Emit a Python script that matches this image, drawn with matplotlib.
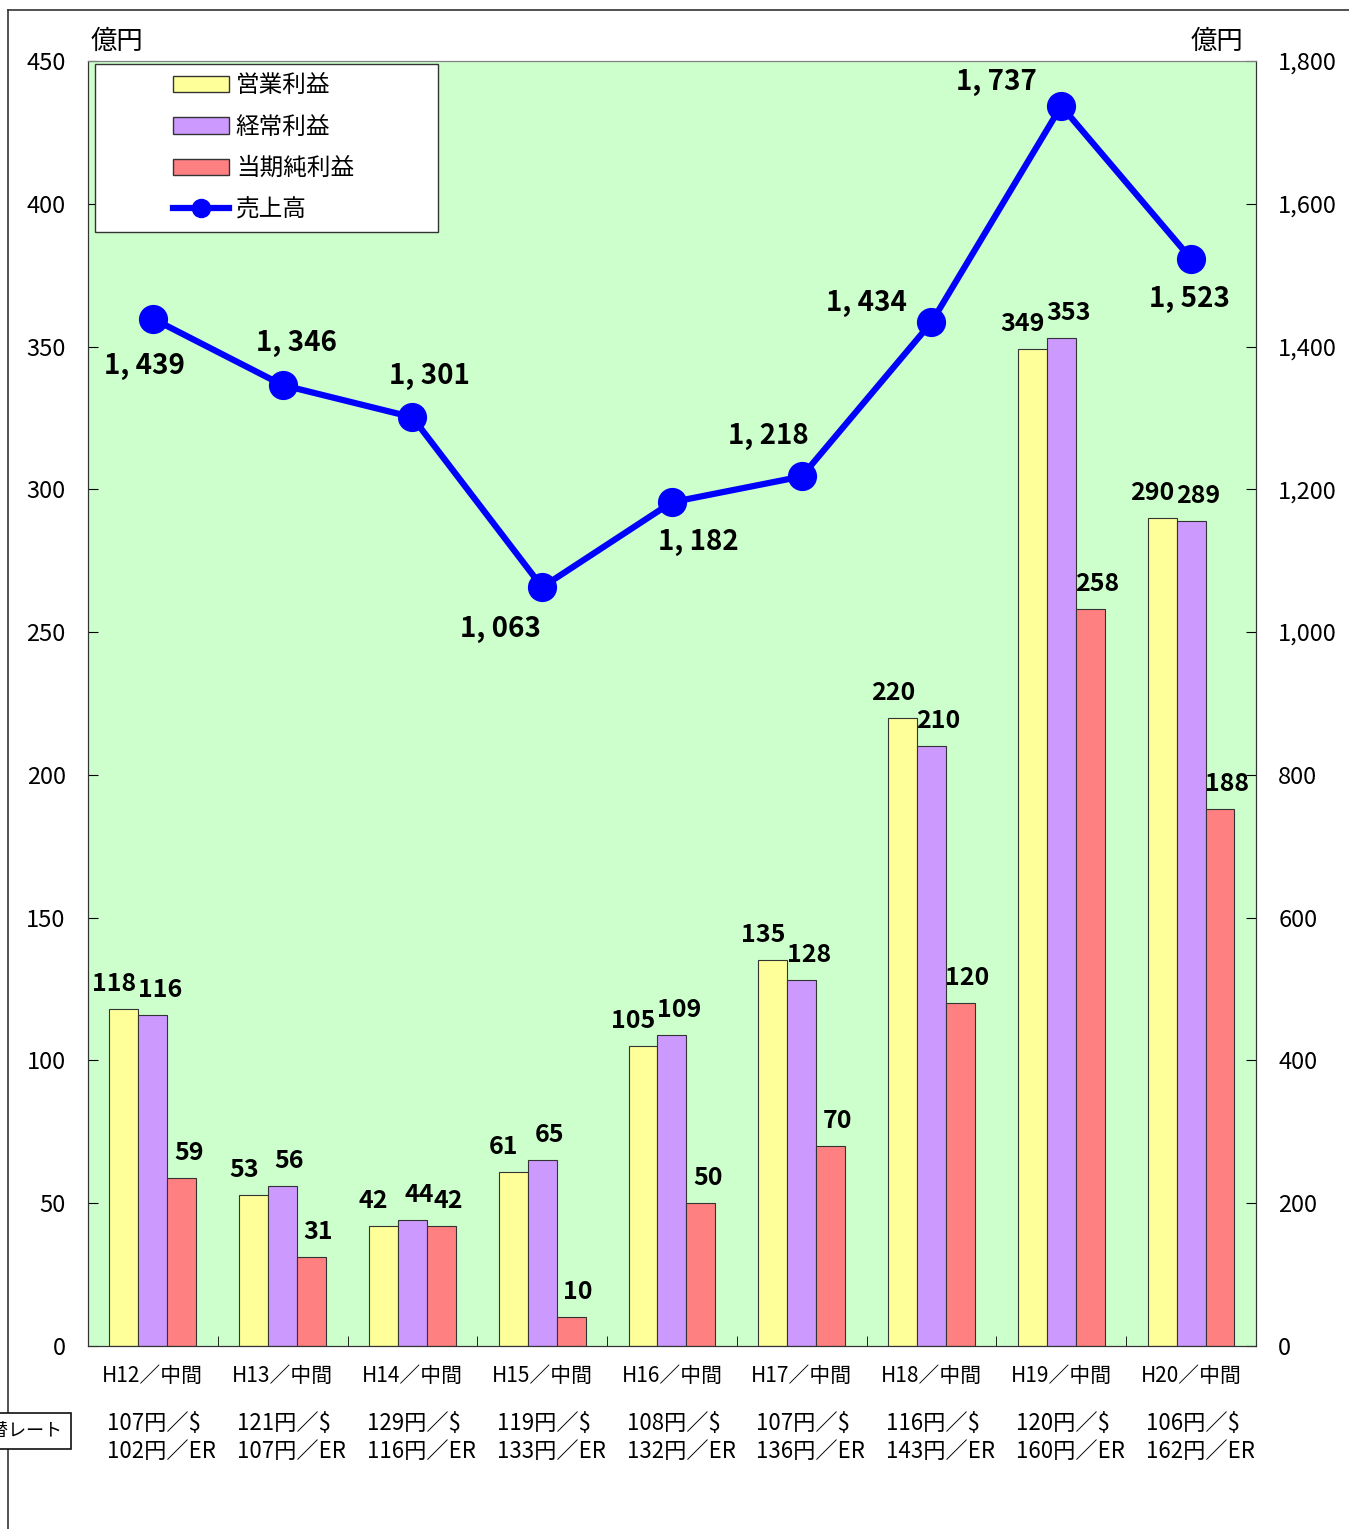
import matplotlib.pyplot as plt
import numpy as np
from matplotlib.patches import Patch, Rectangle
from matplotlib.lines import Line2D

plt.rcParams['font.family'] = ['Noto Sans CJK JP', 'DejaVu Sans']

# データ
periods = ['H12／中間', 'H13／中間', 'H14／中間', 'H15／中間', 'H16／中間',
           'H17／中間', 'H18／中間', 'H19／中間', 'H20／中間']
rates = ['107円／$ \n102円／ER', '121円／$ \n107円／ER', '129円／$ \n116円／ER',
         '119円／$ \n133円／ER', '108円／$ \n132円／ER', '107円／$ \n136円／ER',
         '116円／$ \n143円／ER', '120円／$ \n160円／ER', '106円／$ \n162円／ER']
op_profit = [118, 53, 42, 61, 105, 135, 220, 349, 290]      # 営業利益
ord_profit = [116, 56, 44, 65, 109, 128, 210, 353, 289]     # 経常利益
net_profit = [59, 31, 42, 10, 50, 70, 120, 258, 188]        # 当期純利益
sales = [1439, 1346, 1301, 1063, 1182, 1218, 1434, 1737, 1523]  # 売上高

c_yel = '#FFFF99'
c_pur = '#CC99FF'
c_red = '#FF8080'
c_bg = '#CCFFCC'

fig = plt.figure(figsize=(13.49, 15.29), dpi=100)
ax = fig.add_axes([0.0652, 0.1197, 0.8658, 0.8404])
ax.set_facecolor(c_bg)

x = np.arange(len(periods))
w = 0.223
b1 = ax.bar(x - w, op_profit, w, color=c_yel, edgecolor='#333333', linewidth=0.8, zorder=2)
b2 = ax.bar(x, ord_profit, w, color=c_pur, edgecolor='#333333', linewidth=0.8, zorder=2)
b3 = ax.bar(x + w, net_profit, w, color=c_red, edgecolor='#333333', linewidth=0.8, zorder=2)

lab_font = dict(fontweight='bold', fontsize=18)
for bars, vals, dx in [(b1, op_profit, -7), (b2, ord_profit, 5), (b3, net_profit, 5)]:
    for rect, v in zip(bars, vals):
        ax.annotate(str(v), (rect.get_x() + rect.get_width() / 2, v),
                    xytext=(dx, 18), textcoords='offset points',
                    ha='center', va='center', **lab_font)

ax.set_xlim(-0.5, len(periods) - 0.5)
ax.set_ylim(0, 450)
ax.set_yticks(np.arange(0, 451, 50))
ax.tick_params(axis='y', direction='in', length=7, labelsize=17, pad=16)
ax.set_xticks(x)
ax.set_xticklabels(periods, fontsize=15)
ax.tick_params(axis='x', which='major', length=0, pad=14)
ax.set_xticks(np.arange(0.5, len(periods) - 0.5, 1), minor=True)
ax.tick_params(axis='x', which='minor', direction='in', length=7)

for xi, r in zip(x, rates):
    ax.text(xi + 0.07, -0.051, r, transform=ax.get_xaxis_transform(),
            ha='center', va='top', multialignment='left', fontsize=16, linespacing=1.3)

# 売上高（右軸）
ax2 = ax.twinx()
ax2.plot(x, sales, color='#0000FF', linewidth=4.5, marker='o', markersize=20, zorder=3)
ax2.set_ylim(0, 1800)
ax2.set_yticks(np.arange(0, 1801, 200))
ax2.set_yticklabels([f'{v:,}' for v in range(0, 1801, 200)])
ax2.tick_params(axis='y', direction='in', length=7, labelsize=17, pad=16)

offs = [(-6, -34), (10, 30), (12, 30), (-30, -30), (19, -29), (-24, 29), (-47, 14), (-47, 17), (-1, -29)]
for xi, s, (dx, dy) in zip(x, sales, offs):
    ax2.annotate(f'{s // 1000}, {s % 1000:03d}', (xi, s), xytext=(dx, dy), textcoords='offset points',
                 ha='center', va='center', fontweight='bold', fontsize=20)

for a in (ax, ax2):
    a.spines['top'].set_color('#808080')
    a.spines['left'].set_color('#333333')
    a.spines['right'].set_color('#333333')
    a.spines['bottom'].set_color('#333333')

ax.text(0.002, 1.005, '億円', transform=ax.transAxes, ha='left', va='bottom', fontsize=19)
ax.text(0.989, 1.005, '億円', transform=ax.transAxes, ha='right', va='bottom', fontsize=19)

# 凡例
ax2.add_patch(Rectangle((0.006, 0.867), 0.294, 0.131, transform=ax2.transAxes,
                        facecolor='white', edgecolor='#333333', linewidth=1, zorder=5))
handles = [Patch(facecolor=c_yel, edgecolor='#333333'),
           Patch(facecolor=c_pur, edgecolor='#333333'),
           Patch(facecolor=c_red, edgecolor='#333333'),
           Line2D([], [], color='#0000FF', linewidth=4.5, marker='o', markersize=13)]
leg = ax2.legend(handles, ['営業利益', '経常利益', '当期純利益', '売上高'],
                 loc='upper left', bbox_to_anchor=(0.066, 0.996), frameon=False,
                 fontsize=17, handlelength=2.35, handleheight=0.7, handletextpad=0.3,
                 labelspacing=0.78, borderpad=0.35, borderaxespad=0)
leg.set_zorder(6)

# 外枠
fig.add_artist(Line2D([0.0059, 1.0], [0.9935, 0.9935], color='#333333', linewidth=1.2))
fig.add_artist(Line2D([0.0059, 0.0059], [0.0, 0.9935], color='#333333', linewidth=1.2))

fig.text(62 / 1349, 1 - 1431 / 1529, '為替レート', ha='right', va='center', fontsize=13,
         bbox=dict(boxstyle='square,pad=0.5', facecolor='white', edgecolor='#111111', linewidth=1.2))

fig.savefig('out.png', dpi=100, facecolor='white')
